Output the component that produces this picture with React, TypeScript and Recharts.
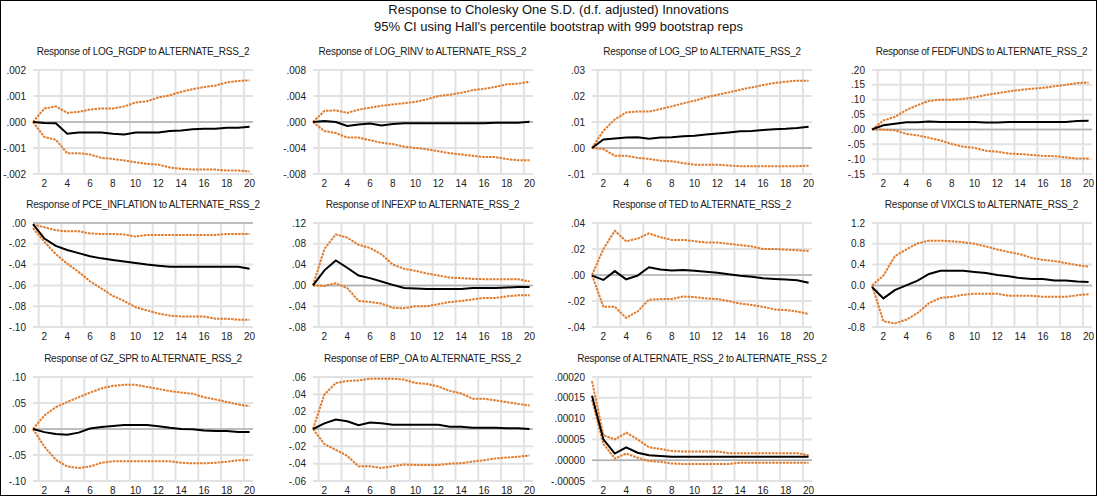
import React from 'react';
import { LineChart, Line, XAxis, YAxis, CartesianGrid, ReferenceLine } from 'recharts';

const periods = [1, 2, 3, 4, 5, 6, 7, 8, 9, 10, 11, 12, 13, 14, 15, 16, 17, 18, 19, 20];
const xTicks = [2, 4, 6, 8, 10, 12, 14, 16, 18, 20];
const xGrid = [1.5, 3.5, 5.5, 7.5, 9.5, 11.5, 13.5, 15.5, 17.5, 19.5];

const mainTitle1 = 'Response to Cholesky One S.D. (d.f. adjusted) Innovations';
const mainTitle2 = "95% CI using Hall's percentile bootstrap with 999 bootstrap reps";

const rgdpIR = [0, -0.00004, -0.00005, -0.00045, -0.0004, -0.0004, -0.0004, -0.00045, -0.00048, -0.0004, -0.0004, -0.0004, -0.00035, -0.00033, -0.00028, -0.00026, -0.00026, -0.00022, -0.00022, -0.00018];
const rgdpHi = [0, 0.00052, 0.0006, 0.00035, 0.00039, 0.00048, 0.00052, 0.00052, 0.0006, 0.00075, 0.0008, 0.00094, 0.00103, 0.00116, 0.00126, 0.00135, 0.0014, 0.00152, 0.00158, 0.0016];
const rgdpLo = [0, -0.00058, -0.00068, -0.0012, -0.0012, -0.00125, -0.00138, -0.00142, -0.00148, -0.00155, -0.00161, -0.00164, -0.00175, -0.0018, -0.00183, -0.00183, -0.00183, -0.00187, -0.00187, -0.0019];

const rinvIR = [0, 0.00015, 0, -0.0006, -0.0004, -0.00025, -0.00055, -0.0003, -0.0002, -0.0002, -0.0002, -0.0002, -0.0002, -0.0002, -0.0002, -0.0002, -0.0001, -0.0001, -0.0001, 0.00005];
const rinvHi = [0, 0.0017, 0.0018, 0.0014, 0.0019, 0.0022, 0.0025, 0.0027, 0.0029, 0.0031, 0.0035, 0.004, 0.0042, 0.0045, 0.0049, 0.0051, 0.0054, 0.0058, 0.0059, 0.0062];
const rinvLo = [0, -0.0014, -0.0017, -0.0024, -0.0024, -0.0028, -0.0032, -0.0034, -0.0038, -0.004, -0.0042, -0.0045, -0.0048, -0.005, -0.0052, -0.0054, -0.0054, -0.0057, -0.0059, -0.0059];

const spIR = [0, 0.0033, 0.0037, 0.004, 0.0041, 0.0036, 0.004, 0.0041, 0.0045, 0.0047, 0.0052, 0.0056, 0.006, 0.0064, 0.0065, 0.0069, 0.0072, 0.0074, 0.0077, 0.0082];
const spHi = [0, 0.0066, 0.011, 0.0137, 0.014, 0.014, 0.015, 0.016, 0.0172, 0.0182, 0.0195, 0.0205, 0.0214, 0.0224, 0.0233, 0.0242, 0.025, 0.0255, 0.0259, 0.0259];
const spLo = [0, -0.0004, -0.003, -0.003, -0.0038, -0.0042, -0.0049, -0.0051, -0.0058, -0.0064, -0.0064, -0.0064, -0.0067, -0.007, -0.007, -0.007, -0.007, -0.007, -0.007, -0.0068];

const ffIR = [0, 0.014, 0.019, 0.024, 0.024, 0.027, 0.025, 0.025, 0.025, 0.025, 0.023, 0.023, 0.025, 0.025, 0.025, 0.025, 0.025, 0.025, 0.028, 0.029];
const ffHi = [0, 0.03, 0.042, 0.065, 0.082, 0.096, 0.1, 0.1, 0.103, 0.108, 0.116, 0.122, 0.128, 0.133, 0.137, 0.14, 0.145, 0.15, 0.156, 0.158];
const ffLo = [0, -0.001, -0.003, -0.015, -0.02, -0.028, -0.037, -0.049, -0.058, -0.062, -0.072, -0.075, -0.081, -0.083, -0.086, -0.089, -0.09, -0.094, -0.098, -0.098];

const pceIR = [-0.001, -0.015, -0.022, -0.026, -0.029, -0.032, -0.034, -0.0355, -0.037, -0.0385, -0.04, -0.041, -0.042, -0.042, -0.042, -0.042, -0.042, -0.042, -0.042, -0.044];
const pceHi = [-0.0015, -0.004, -0.007, -0.008, -0.008, -0.01, -0.0105, -0.0105, -0.011, -0.013, -0.0115, -0.0115, -0.0115, -0.0115, -0.0115, -0.0115, -0.0115, -0.0105, -0.0105, -0.0105];
const pceLo = [-0.005, -0.018, -0.03, -0.039, -0.047, -0.056, -0.063, -0.07, -0.075, -0.081, -0.084, -0.087, -0.089, -0.09, -0.09, -0.09, -0.092, -0.092, -0.093, -0.093];

const infIR = [0, 0.029, 0.048, 0.034, 0.019, 0.014, 0.0075, 0.001, -0.005, -0.006, -0.007, -0.007, -0.007, -0.007, -0.005, -0.005, -0.005, -0.004, -0.003, -0.003];
const infHi = [0, 0.07, 0.098, 0.092, 0.078, 0.072, 0.06, 0.04, 0.032, 0.028, 0.023, 0.019, 0.015, 0.014, 0.0125, 0.012, 0.012, 0.012, 0.012, 0.0075];
const infLo = [0, -0.001, 0.004, -0.005, -0.03, -0.032, -0.035, -0.043, -0.044, -0.04, -0.04, -0.036, -0.032, -0.03, -0.027, -0.024, -0.024, -0.021, -0.019, -0.019];

const tedIR = [-0.0005, -0.0038, 0.003, -0.0033, -0.0005, 0.006, 0.0043, 0.0035, 0.0038, 0.0033, 0.0025, 0.0018, 0.0005, -0.0005, -0.0013, -0.0025, -0.003, -0.0035, -0.004, -0.006];
const tedHi = [0, 0.02, 0.034, 0.026, 0.028, 0.032, 0.029, 0.027, 0.027, 0.026, 0.025, 0.025, 0.024, 0.023, 0.022, 0.02, 0.02, 0.0195, 0.019, 0.0185];
const tedLo = [0, -0.0245, -0.0245, -0.033, -0.028, -0.019, -0.0185, -0.0185, -0.0165, -0.017, -0.018, -0.0185, -0.02, -0.022, -0.023, -0.0245, -0.0265, -0.027, -0.028, -0.03];

const vixIR = [-0.03, -0.25, -0.09, 0, 0.09, 0.22, 0.28, 0.28, 0.28, 0.26, 0.24, 0.2, 0.175, 0.14, 0.125, 0.125, 0.095, 0.095, 0.075, 0.065];
const vixHi = [0, 0.19, 0.56, 0.69, 0.81, 0.86, 0.86, 0.85, 0.83, 0.8, 0.75, 0.69, 0.64, 0.6, 0.53, 0.49, 0.47, 0.43, 0.39, 0.36];
const vixLo = [0, -0.69, -0.73, -0.66, -0.53, -0.34, -0.24, -0.22, -0.18, -0.16, -0.16, -0.16, -0.2, -0.2, -0.2, -0.22, -0.22, -0.22, -0.19, -0.17];

const gzIR = [0, -0.006, -0.0095, -0.011, -0.007, 0.001, 0.004, 0.006, 0.0075, 0.0075, 0.0075, 0.0055, 0.0025, 0, -0.0005, -0.003, -0.004, -0.004, -0.006, -0.006];
const gzHi = [0, 0.026, 0.042, 0.052, 0.061, 0.07, 0.078, 0.083, 0.085, 0.085, 0.081, 0.077, 0.073, 0.07, 0.068, 0.061, 0.057, 0.052, 0.047, 0.044];
const gzLo = [0, -0.034, -0.059, -0.072, -0.075, -0.072, -0.065, -0.062, -0.062, -0.062, -0.062, -0.062, -0.062, -0.065, -0.066, -0.066, -0.065, -0.063, -0.06, -0.06];

const ebpIR = [0, 0.0065, 0.011, 0.009, 0.0045, 0.0075, 0.0065, 0.005, 0.005, 0.005, 0.005, 0.005, 0.0025, 0.0025, 0.0015, 0.0015, 0.0015, 0.0008, 0.0008, 0];
const ebpHi = [0, 0.04, 0.053, 0.0555, 0.056, 0.058, 0.058, 0.058, 0.057, 0.053, 0.052, 0.049, 0.044, 0.041, 0.035, 0.035, 0.033, 0.031, 0.029, 0.027];
const ebpLo = [0, -0.0175, -0.024, -0.031, -0.043, -0.043, -0.045, -0.043, -0.041, -0.0415, -0.0415, -0.0415, -0.04, -0.0395, -0.0375, -0.036, -0.034, -0.033, -0.032, -0.0305];

const rssIR = [0.000155, 0.00005, 0.000016, 0.000031, 0.000018, 0.000012, 0.00001, 0.000008, 0.000008, 0.000008, 0.000008, 0.000008, 0.000008, 0.000008, 0.000008, 0.000008, 0.000008, 0.000008, 0.000008, 0.000008];
const rssHi = [0.00019, 0.00006, 0.00005, 0.000066, 0.00005, 0.000031, 0.000027, 0.000022, 0.000021, 0.000021, 0.000021, 0.000021, 0.000017, 0.000017, 0.000017, 0.000017, 0.000017, 0.000017, 0.000017, 0.000012];
const rssLo = [0.000145, 0.000039, 0.000004, 0.000016, 0.000006, -0.000002, -0.000004, -0.000008, -0.000009, -0.000009, -0.000009, -0.000009, -0.000009, -0.000006, -0.000006, -0.000006, -0.000006, -0.000006, -0.000006, -0.000006];

const rgdpTicks = [-0.002, -0.001, 0, 0.001, 0.002];
const rinvTicks = [-0.008, -0.004, 0, 0.004, 0.008];
const spTicks = [-0.01, 0, 0.01, 0.02, 0.03];
const ffTicks = [-0.15, -0.1, -0.05, 0, 0.05, 0.1, 0.15, 0.2];
const pceTicks = [-0.1, -0.08, -0.06, -0.04, -0.02, 0];
const infTicks = [-0.08, -0.04, 0, 0.04, 0.08, 0.12];
const tedTicks = [-0.04, -0.02, 0, 0.02, 0.04];
const vixTicks = [-0.8, -0.4, 0, 0.4, 0.8, 1.2];
const gzTicks = [-0.1, -0.05, 0, 0.05, 0.1];
const ebpTicks = [-0.06, -0.04, -0.02, 0, 0.02, 0.04, 0.06];
const rssTicks = [-0.00005, 0, 0.00005, 0.0001, 0.00015, 0.0002];

type Panel = { title: string; ir: number[]; lo: number[]; hi: number[]; ticks: number[]; dec: number; lead: boolean };

const panels: Panel[] = [
  { title: 'Response of LOG_RGDP to ALTERNATE_RSS_2', ir: rgdpIR, lo: rgdpLo, hi: rgdpHi, ticks: rgdpTicks, dec: 3, lead: false },
  { title: 'Response of LOG_RINV to ALTERNATE_RSS_2', ir: rinvIR, lo: rinvLo, hi: rinvHi, ticks: rinvTicks, dec: 3, lead: false },
  { title: 'Response of LOG_SP to ALTERNATE_RSS_2', ir: spIR, lo: spLo, hi: spHi, ticks: spTicks, dec: 2, lead: false },
  { title: 'Response of FEDFUNDS to ALTERNATE_RSS_2', ir: ffIR, lo: ffLo, hi: ffHi, ticks: ffTicks, dec: 2, lead: false },
  { title: 'Response of PCE_INFLATION to ALTERNATE_RSS_2', ir: pceIR, lo: pceLo, hi: pceHi, ticks: pceTicks, dec: 2, lead: false },
  { title: 'Response of INFEXP to ALTERNATE_RSS_2', ir: infIR, lo: infLo, hi: infHi, ticks: infTicks, dec: 2, lead: false },
  { title: 'Response of TED to ALTERNATE_RSS_2', ir: tedIR, lo: tedLo, hi: tedHi, ticks: tedTicks, dec: 2, lead: false },
  { title: 'Response of VIXCLS to ALTERNATE_RSS_2', ir: vixIR, lo: vixLo, hi: vixHi, ticks: vixTicks, dec: 1, lead: true },
  { title: 'Response of GZ_SPR to ALTERNATE_RSS_2', ir: gzIR, lo: gzLo, hi: gzHi, ticks: gzTicks, dec: 2, lead: false },
  { title: 'Response of EBP_OA to ALTERNATE_RSS_2', ir: ebpIR, lo: ebpLo, hi: ebpHi, ticks: ebpTicks, dec: 2, lead: false },
  { title: 'Response of ALTERNATE_RSS_2 to ALTERNATE_RSS_2', ir: rssIR, lo: rssLo, hi: rssHi, ticks: rssTicks, dec: 5, lead: false },
];

const FONT = '"Liberation Sans", Arial, sans-serif';
const ORANGE = '#e07b2c';
const COL_LEFT = [0, 279.5, 559, 838.5];
const ROW_TOP = [69, 222, 376];
const PLOT_LEFT = 32;
const PLOT_W = 220;
const PLOT_H = 104;
const YW = 52;
const MT = 8;
const XH = 24;

function fmt(v: number, dec: number, lead: boolean) {
  let s = Math.abs(v).toFixed(dec);
  if (!lead) s = s.replace(/^0/, '');
  return (v < -1e-12 ? '-' : '') + s;
}

function PanelChart({ p, idx }: { p: Panel; idx: number }) {
  const col = idx % 4;
  const row = Math.floor(idx / 4);
  const left = COL_LEFT[col];
  const top = ROW_TOP[row];
  const data = periods.map((k, i) => ({ k, ir: p.ir[i], lo: p.lo[i], hi: p.hi[i] }));
  const chartW = YW + PLOT_W + 28;
  const chartH = MT + PLOT_H + XH;
  return (
    <>
      <div
        style={{
          position: 'absolute',
          left: left + PLOT_LEFT - 40,
          width: PLOT_W + 80,
          top: top - 25,
          height: 14,
          lineHeight: '14px',
          textAlign: 'center',
          fontFamily: FONT,
          fontSize: 10,
          letterSpacing: -0.25,
          color: '#1a1a1a',
          whiteSpace: 'nowrap',
        }}
      >
        {p.title}
      </div>
      <div style={{ position: 'absolute', left: left + PLOT_LEFT - YW, top: top - MT }}>
        <LineChart width={chartW} height={chartH} data={data} margin={{ top: MT, right: 28, bottom: 0, left: 0 }}>
          <CartesianGrid vertical={false} stroke="#e2e2e2" strokeWidth={2} />
          {xGrid.map((g) => (
            <ReferenceLine key={'g' + g} x={g} stroke="#e2e2e2" strokeWidth={2} />
          ))}
          <ReferenceLine y={0} stroke="#b0b0b0" strokeWidth={1.5} />
          <XAxis
            dataKey="k"
            type="number"
            domain={[1, 20.3]}
            ticks={xTicks}
            axisLine={false}
            tickLine={false}
            tickSize={4}
            tickMargin={2}
            height={XH}
            interval={0}
            tick={{ fontSize: 10, fill: '#222', fontFamily: FONT }}
          />
          <YAxis
            type="number"
            domain={[p.ticks[0], p.ticks[p.ticks.length - 1]]}
            ticks={p.ticks}
            width={YW}
            axisLine={false}
            tickLine={false}
            tickSize={4}
            tickMargin={3}
            interval={0}
            tickFormatter={(v: number) => fmt(v, p.dec, p.lead)}
            tick={{ fontSize: 10, fill: '#222', fontFamily: FONT }}
          />
          <Line dataKey="hi" stroke={ORANGE} strokeWidth={2} strokeDasharray="2.5 1" dot={false} isAnimationActive={false} type="linear" />
          <Line dataKey="lo" stroke={ORANGE} strokeWidth={2} strokeDasharray="2.5 1" dot={false} isAnimationActive={false} type="linear" />
          <Line dataKey="ir" stroke="#000" strokeWidth={2} dot={false} isAnimationActive={false} type="linear" />
        </LineChart>
      </div>
    </>
  );
}

export default function App() {
  return (
    <div
      style={{
        position: 'absolute',
        left: 0,
        top: 0,
        width: 1097,
        height: 496,
        boxSizing: 'border-box',
        border: '1px solid #000',
        background: '#fff',
        overflow: 'hidden',
        fontFamily: FONT,
      }}
    >
      <div style={{ position: 'absolute', left: 10, width: 1095, top: 1, textAlign: 'center', fontSize: 13, lineHeight: '15px', color: '#111', whiteSpace: 'nowrap' }}>
        {mainTitle1}
      </div>
      <div style={{ position: 'absolute', left: 10, width: 1095, top: 18, textAlign: 'center', fontSize: 13, lineHeight: '15px', color: '#111', whiteSpace: 'nowrap' }}>
        {mainTitle2}
      </div>
      {panels.map((p, i) => (
        <PanelChart key={p.title} p={p} idx={i} />
      ))}
    </div>
  );
}
